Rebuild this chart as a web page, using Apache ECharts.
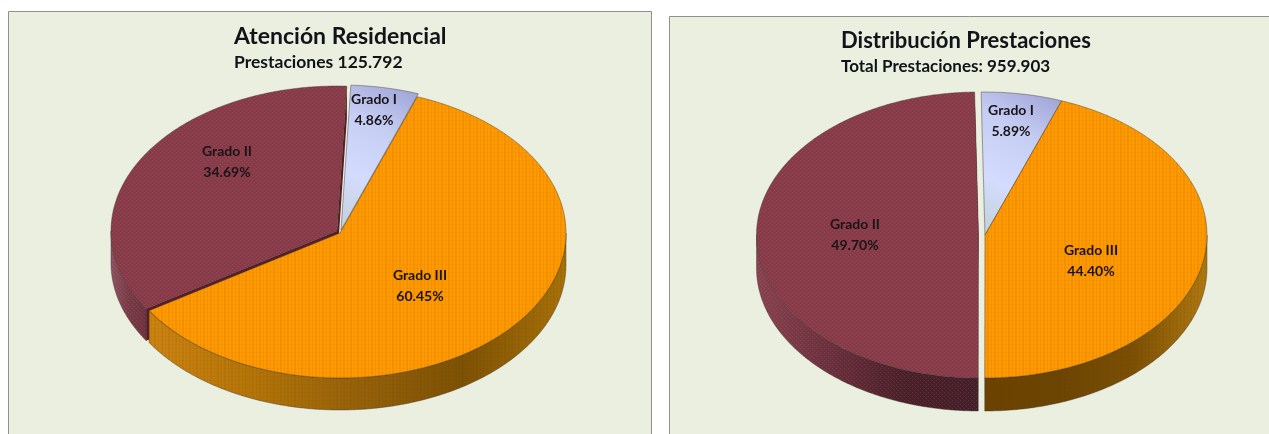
<!DOCTYPE html>
<html>
<head>
<meta charset="utf-8">
<style>html,body{margin:0;padding:0;background:#fff}#chart{width:1269px;height:434px}</style>
<script src="https://cdn.jsdelivr.net/npm/echarts@6/dist/echarts.min.js"></script>
</head>
<body>
<div id="chart"></div>
<script>
// Percentage shares per care grade, one list per pie.
const categories = ['Grado I', 'Grado II', 'Grado III'];
const residencialShares = [4.86, 34.69, 60.45];
const distribucionShares = [5.89, 49.70, 44.40];

const panelTitles = ['Atención Residencial', 'Distribución Prestaciones'];
const panelSubtitles = ['Prestaciones 125.792', 'Total Prestaciones: 959.903'];

// Slices run clockwise as I, III, II; they are painted in category order.
const sweepOrder = [0, 2, 1];

const FONT = 'Lato, "Open Sans", sans-serif';

// Small repeating tiles that give the pie faces their printed grain.
function tile(w, h, paint) {
  const c = document.createElement('canvas');
  c.width = w; c.height = h;
  paint(c.getContext('2d'));
  return { image: c, repeat: 'repeat' };
}
const stripes = tile(7, 4, g => {
  g.fillStyle = 'rgba(120,60,0,0.09)';
  g.fillRect(0, 0, 2, 4);
  g.fillRect(4, 0, 1, 4);
  g.fillStyle = 'rgba(120,60,0,0.04)';
  g.fillRect(0, 0, 7, 1);
});
const dots = tile(4, 4, g => {
  g.fillStyle = 'rgba(230,150,170,0.14)';
  g.fillRect(0, 0, 1, 1);
  g.fillRect(2, 2, 1, 1);
  g.fillStyle = 'rgba(40,0,10,0.07)';
  g.fillRect(2, 0, 1, 1);
  g.fillRect(0, 2, 1, 1);
});

const grad = (x0, y0, x1, y1, stops) => new echarts.graphic.LinearGradient(
  x0, y0, x1, y1, stops.map((c, i) => ({ offset: i / (stops.length - 1), color: c })));

// Per-slice drawing style, indexed like the categories.
function sliceStyles(wallStops) {
  return [
    { top: grad(0, 1, 1, 0, ['#C2D0D8', '#D3DCFE', '#C6CDF3', '#9A9FD2']), grain: null, wall: '#D9DCD6', face: '#DADDD6' },
    { top: '#883C49', grain: dots, wall: grad(0, 0, 1, 0, wallStops.maroon), face: '#5A1C27' },
    { top: '#FF9A00', grain: stripes, wall: grad(0, 0, 1, 0, wallStops.orange), face: '#8A5A08' }
  ];
}

const pies = [
  {
    shares: residencialShares, cx: 340, cy: 233, rx: 226, ry: 145, depth: 32, rotation: 2.5,
    offsets: [[1, -3], [-3, -2], [0, 0]],
    labels: [[374, 110], [227, 162], [420, 286]],
    styles: sliceStyles({
      maroon: ['#8E5360', '#7A3B48', '#6E3340'],
      orange: ['#CC8410', '#B47608', '#95620A', '#7C5204', '#A87208']
    })
  },
  {
    shares: distribucionShares, cx: 985, cy: 235, rx: 222, ry: 143, depth: 33, rotation: -1,
    offsets: [[0, 0], [-6.5, 0], [0, 0]],
    labels: [[1011, 121], [855, 235], [1091, 261]],
    styles: sliceStyles({
      maroon: ['#8A4350', '#6B303D', '#4A2029', '#44202A'],
      orange: ['#6B4300', '#6B4502', '#7A5004', '#B07A10']
    })
  }
];

// Point on the tilted pie rim; angles run clockwise from twelve o'clock.
function rim(p, off, deg, drop) {
  const a = deg * Math.PI / 180;
  return [p.cx + off[0] + p.rx * Math.sin(a), p.cy + off[1] - p.ry * Math.cos(a) + (drop || 0)];
}
function arc(p, off, from, to, drop) {
  const pts = [];
  const n = Math.max(2, Math.ceil(Math.abs(to - from) * 2));
  for (let i = 0; i <= n; i++) pts.push(rim(p, off, from + (to - from) * i / n, drop));
  return pts;
}

function pieSeries(p) {
  const total = p.shares.reduce((s, v) => s + v, 0);
  const outline = { stroke: 'rgba(60,50,45,0.6)', lineWidth: 0.7 };
  return {
    type: 'custom',
    coordinateSystem: 'none',
    silent: true,
    data: p.shares.map((v, i) => ({ name: categories[i], value: v })),
    renderItem(params, api) {
      const i = params.dataIndex;
      const value = api.value(0);
      const before = sweepOrder.slice(0, sweepOrder.indexOf(i)).reduce((s, k) => s + p.shares[k], 0);
      const start = p.rotation + before / total * 360;
      const end = start + value / total * 360;
      const off = p.offsets[i];
      const st = p.styles[i];
      const apex = [p.cx + off[0], p.cy + off[1]];
      const apexLow = [apex[0], apex[1] + p.depth];
      const children = [];

      // Cut faces, seen only where a slice stands apart from its neighbour.
      [start, end].forEach(deg => {
        children.push({
          type: 'polygon',
          shape: { points: [apex, rim(p, off, deg), rim(p, off, deg, p.depth), apexLow] },
          style: { fill: st.face }
        });
      });

      // Outer wall on the near half of the pie.
      const from = Math.max(start, 90);
      const to = Math.min(end, 270);
      if (to > from) {
        const wall = arc(p, off, from, to, 0).concat(arc(p, off, to, from, p.depth));
        children.push({ type: 'polygon', shape: { points: wall }, style: { fill: st.wall, ...outline } });
        if (st.grain) {
          children.push({ type: 'polygon', shape: { points: wall }, style: { fill: st.grain } });
        }
      }

      // Top face.
      const top = [apex].concat(arc(p, off, start, end, 0));
      children.push({ type: 'polygon', shape: { points: top }, style: { fill: st.top, ...outline } });
      if (st.grain) {
        children.push({ type: 'polygon', shape: { points: top }, style: { fill: st.grain } });
      }

      children.push({
        type: 'text',
        z2: 10,
        x: p.labels[i][0],
        y: p.labels[i][1],
        style: {
          text: categories[i] + '\n' + value.toFixed(2) + '%',
          fill: '#1A1418',
          font: 'bold 14px ' + FONT,
          lineHeight: 21,
          align: 'center',
          verticalAlign: 'middle'
        }
      });
      return { type: 'group', children };
    }
  };
}

function panel(x, y, w, h) {
  return {
    type: 'rect',
    silent: true,
    z: -10,
    shape: { x: x + 0.5, y: y + 0.5, width: w, height: h },
    style: { fill: '#EAEFE0', stroke: '#8D928A', lineWidth: 1 }
  };
}

const chart = echarts.init(document.getElementById('chart'), null, { renderer: 'canvas' });
chart.setOption({
  animation: false,
  backgroundColor: '#FFFFFF',
  title: [
    { text: panelTitles[0], left: 234, top: 25, padding: 0,
      textStyle: { fontFamily: FONT, fontSize: 23, fontWeight: 'bold', color: '#101418' } },
    { text: panelSubtitles[0], left: 234, top: 53, padding: 0,
      textStyle: { fontFamily: FONT, fontSize: 17.5, fontWeight: 'bold', color: '#101418' } },
    { text: panelTitles[1], left: 841, top: 30, padding: 0,
      textStyle: { fontFamily: FONT, fontSize: 22, fontWeight: 'bold', color: '#101418' } },
    { text: panelSubtitles[1], left: 841, top: 58, padding: 0,
      textStyle: { fontFamily: FONT, fontSize: 17, fontWeight: 'bold', color: '#101418' } }
  ],
  graphic: { elements: [panel(8, 11, 643, 440), panel(669, 16, 620, 440)] },
  series: pies.map(pieSeries)
});
</script>
</body>
</html>
